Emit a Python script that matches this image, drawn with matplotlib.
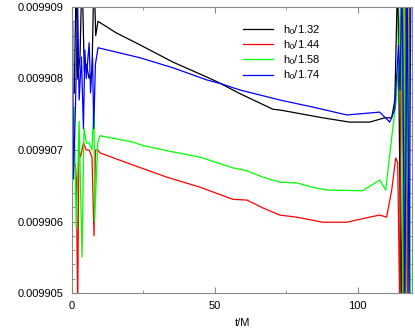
import matplotlib
matplotlib.use('Agg')
import matplotlib.pyplot as plt
from matplotlib.ticker import MultipleLocator, FormatStrFormatter

plt.rcParams['font.family'] = 'Liberation Sans'
plt.rcParams['mathtext.fontset'] = 'custom'
plt.rcParams['mathtext.rm'] = 'Liberation Sans'

OFF_TOP = 0.0099095
OFF_BOT = 0.0099048

# h0/1.32 (black)
t_132 = [0.8, 1.5, 2.0, 2.8, 3.5, 4.3, 5.0, 6.0, 7.0, 7.7, 8.3, 9.1, 15.4, 23.8, 35.3, 47.2,
         50.5, 58.7, 70.3, 72.7, 87.8, 97.2, 104.2, 109.4, 111.9, 113.0, 114.0, 115.2, 116.4,
         117.4, 118.4]
v_132 = [0.0099078, OFF_TOP, 0.0099080, 0.0099083, OFF_TOP, 0.0099081, 0.0099082, 0.0099080,
         0.0099081, OFF_TOP, 0.0099086, 0.0099088, 0.00990864, 0.00990847, 0.00990823, 0.00990802,
         0.00990796, 0.00990779, 0.00990757, 0.00990756, 0.00990745, 0.00990739, 0.00990739,
         0.00990745, 0.00990745, 0.0099077, OFF_TOP, OFF_BOT, OFF_TOP, OFF_BOT, OFF_TOP]

# h0/1.44 (red)
t_144 = [1.2, 1.5, 2.0, 2.4, 3.0, 4.0, 5.0, 6.0, 7.0, 7.7, 8.2, 9.0, 9.8, 21.3, 33.2, 44.8,
         56.3, 61.2, 66.8, 72.7, 78.7, 87.8, 96.2, 101.7, 107.7, 110.1, 111.9, 113.3, 114.0,
         114.7, 115.3, 116.0, 116.8, 117.5, 118.3]
v_144 = [0.0099068, 0.0099066, OFF_BOT, 0.0099070, 0.0099069, 0.0099071, 0.0099070, 0.0099070,
         0.0099069, 0.0099058, 0.0099070, 0.0099070, 0.00990696, 0.00990679, 0.00990662,
         0.00990648, 0.00990631, 0.00990630, 0.00990619, 0.00990609, 0.00990606, 0.00990599,
         0.00990599, 0.00990604, 0.00990609, 0.00990606, 0.00990644, 0.00990689, 0.00990682,
         OFF_BOT, OFF_TOP, OFF_BOT, OFF_TOP, OFF_BOT, OFF_TOP]

# h0/1.58 (green)
t_158 = [0.0, 0.7, 1.5, 2.5, 3.5, 4.2, 5.0, 6.0, 7.0, 7.7, 7.9, 9.0, 9.8, 21.3, 25.0, 33.2,
         44.8, 56.3, 61.2, 66.8, 72.7, 78.7, 85.0, 89.5, 101.7, 107.7, 109.8, 112.2, 113.5,
         114.3, 115.3, 115.7, 116.3, 116.8, 117.6, 118.5]
v_158 = [0.0099071, 0.0099076, 0.0099059, 0.0099074, 0.0099055, 0.0099073, 0.0099071,
         0.0099071, 0.0099070, 0.0099077, 0.0099060, 0.0099071, 0.0099072, 0.00990711,
         0.00990706, 0.00990699, 0.0099069, 0.00990675, 0.00990671, 0.00990662, 0.00990655,
         0.00990654, 0.00990647, 0.00990644, 0.00990643, 0.00990658, 0.00990644, 0.00990728,
         0.0099077, 0.00990826, OFF_TOP, OFF_BOT, OFF_TOP, OFF_BOT, OFF_TOP, OFF_BOT]

# h0/1.74 (blue)
t_174 = [0.0, 0.2, 0.5, 1.2, 2.0, 2.5, 3.3, 4.0, 4.5, 5.0, 6.0, 6.5, 7.2, 7.6, 8.2, 9.1,
         15.4, 23.8, 35.3, 47.2, 52.7, 58.7, 72.7, 84.3, 96.2, 107.7, 111.2, 112.9, 114.3,
         114.8, 115.5, 116.5, 117.3, 118.0, 118.6]
v_174 = [0.0099077, 0.0099088, 0.0099066, 0.0099076, 0.0099090, 0.0099077, 0.0099083,
         0.0099073, 0.0099084, 0.0099080, 0.0099085, 0.0099078, 0.0099083, 0.0099073,
         0.0099082, 0.00990843, 0.00990837, 0.00990829, 0.00990815, 0.00990798, 0.00990792,
         0.00990784, 0.0099077, 0.0099076, 0.00990749, 0.00990753, 0.00990739, 0.00990756,
         0.00990847, 0.00990784, OFF_TOP, OFF_BOT, OFF_TOP, OFF_BOT, OFF_TOP]

labels = [r'h$_0$/1.32', r'h$_0$/1.44', r'h$_0$/1.58', r'h$_0$/1.74']
colors = ['#000000', '#ff0000', '#00ff00', '#0000ff']

fig = plt.figure(figsize=(4.15, 3.34), dpi=100)
ax = fig.add_axes([72 / 415, 41 / 334, 340 / 415, 286 / 334])

for t, v, lab, c in zip([t_132, t_144, t_158, t_174], [v_132, v_144, v_158, v_174], labels, colors):
    ax.plot(t, v, color=c, lw=0.9, label=lab)

ax.set_xlim(0, 119)
ax.set_ylim(0.009905, 0.009909)
ax.xaxis.set_major_locator(MultipleLocator(50))
ax.xaxis.set_minor_locator(MultipleLocator(25))
ax.yaxis.set_major_locator(MultipleLocator(0.000001))
ax.yaxis.set_minor_locator(MultipleLocator(0.0000002))
ax.yaxis.set_major_formatter(FormatStrFormatter('%.6f'))
ax.tick_params(which='both', direction='in', top=True, right=True, labelsize=8, colors='#888888',
               labelcolor='black')
ax.tick_params(which='major', length=4.5, pad=6)
ax.tick_params(which='minor', length=2.2)
for s in ax.spines.values():
    s.set_color('#888888')
    s.set_linewidth(0.8)

ax.set_xlabel('t/M', fontsize=8, labelpad=5)

ax.legend(loc='upper left', bbox_to_anchor=(243 / 415, 1 - 23 / 334), bbox_transform=fig.transFigure,
          frameon=False, fontsize=8, borderpad=0, borderaxespad=0, handlelength=2.7,
          handletextpad=0.9, labelspacing=0.12)

fig.savefig('out.png', dpi=100)
